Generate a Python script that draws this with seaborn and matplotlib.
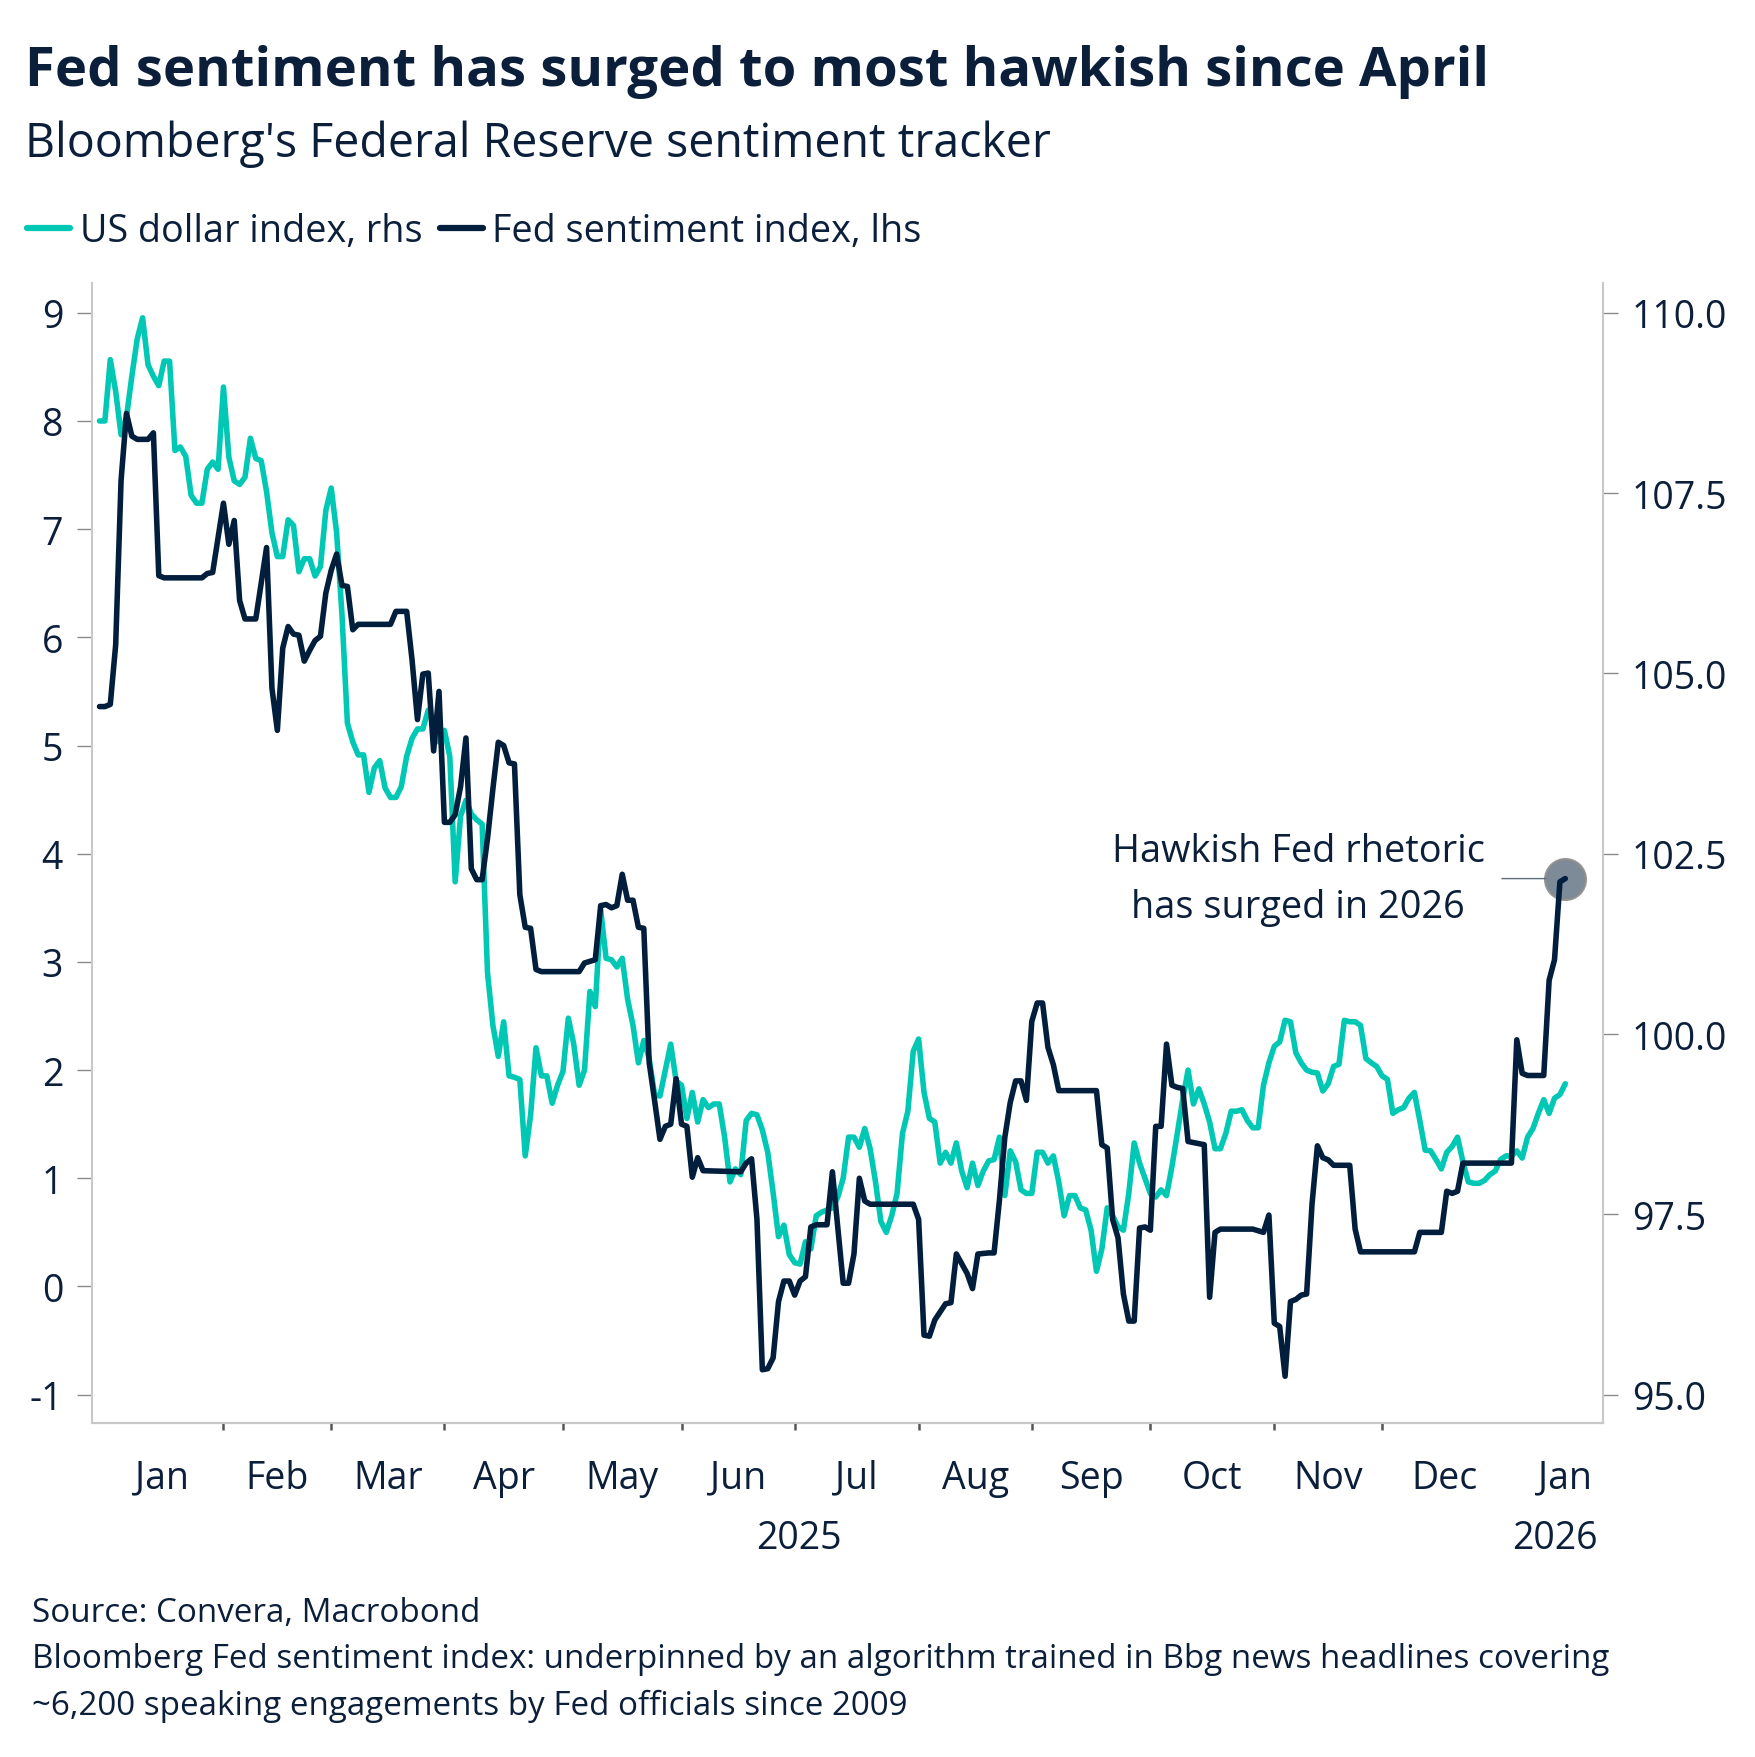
import numpy as np
import pandas as pd
import matplotlib.pyplot as plt
from matplotlib.lines import Line2D
import seaborn as sns

NAVY = "#011f3d"
TEAL = "#00c8b4"
INK = "#0b1f3b"
SPINE = "#c8c8c8"

# x = trading day counted from 2025-01-01 (weekdays only)
fed_day = [0, 1, 2, 3, 4, 5, 6, 7, 9, 10, 11, 12, 19, 20, 21, 23, 24, 25, 26, 27,
           29, 31, 32, 33, 34, 35, 36, 37, 38, 39, 40, 41, 42, 43, 44, 45, 46, 47, 48, 54,
           55, 57, 58, 59, 60, 61, 62, 63, 64, 65, 66, 67, 68, 69, 70, 71, 72, 73, 74, 75,
           76, 77, 78, 79, 80, 81, 82, 89, 90, 92, 93, 94, 95, 96, 97, 98, 99, 100, 101, 102,
           103, 104, 105, 106, 107, 108, 109, 110, 111, 112, 119, 120, 121, 122, 123, 124, 125, 126, 127, 128,
           129, 130, 131, 132, 133, 135, 136, 137, 138, 139, 140, 141, 142, 143, 151, 152, 153, 154, 155, 157,
           158, 159, 161, 162, 163, 165, 166, 167, 168, 169, 170, 171, 172, 173, 174, 175, 176, 177, 178, 185,
           186, 187, 188, 189, 190, 191, 192, 193, 194, 195, 196, 197, 198, 199, 200, 201, 202, 203, 205, 206,
           207, 208, 214, 216, 217, 218, 219, 220, 221, 222, 223, 224, 225, 226, 227, 228, 229, 232, 233, 234,
           244, 245, 249, 250, 251, 252, 253, 262, 263, 264, 265, 268, 269, 270, 271, 272]
fed_val = [5.36, 5.36, 5.38, 5.93, 7.45, 8.07, 7.86, 7.83, 7.83, 7.89, 6.57, 6.55, 6.55, 6.59, 6.60, 7.24, 6.86, 7.08, 6.34, 6.17,
           6.17, 6.83, 5.53, 5.14, 5.90, 6.10, 6.03, 6.02, 5.78, 5.88, 5.97, 6.01, 6.41, 6.62, 6.77, 6.48, 6.47, 6.07, 6.12, 6.12,
           6.24, 6.24, 5.79, 5.24, 5.66, 5.67, 4.95, 5.50, 4.29, 4.29, 4.36, 4.62, 5.07, 3.86, 3.76, 3.76, 4.14, 4.60, 5.03, 5.00,
           4.84, 4.83, 3.62, 3.32, 3.31, 2.93, 2.91, 2.91, 2.99, 3.02, 3.52, 3.53, 3.50, 3.52, 3.81, 3.57, 3.57, 3.32, 3.31, 2.07,
           1.72, 1.36, 1.48, 1.50, 1.92, 1.50, 1.48, 1.01, 1.19, 1.07, 1.06, 1.14, 1.18, 0.62, -0.77, -0.76, -0.66, -0.14, 0.05, 0.05,
           -0.08, 0.05, 0.09, 0.55, 0.57, 0.57, 1.06, 0.55, 0.03, 0.03, 0.30, 1.00, 0.79, 0.76, 0.76, 0.62, -0.45, -0.46, -0.31, -0.16,
           -0.15, 0.30, 0.12, -0.02, 0.30, 0.31, 0.31, 0.80, 1.38, 1.70, 1.90, 1.90, 1.72, 2.45, 2.62, 2.62, 2.21, 2.05, 1.81, 1.81,
           1.31, 1.28, 0.62, 0.45, -0.07, -0.32, -0.32, 0.54, 0.55, 0.52, 1.48, 1.48, 2.24, 1.86, 1.84, 1.83, 1.34, 1.33, 1.31, -0.10,
           0.50, 0.53, 0.53, 0.50, 0.66, -0.34, -0.37, -0.83, -0.14, -0.12, -0.08, -0.07, 0.76, 1.30, 1.19, 1.17, 1.12, 1.12, 0.53, 0.32,
           0.32, 0.50, 0.50, 0.88, 0.86, 0.88, 1.14, 1.14, 2.28, 1.97, 1.95, 1.95, 2.83, 3.02, 3.74, 3.77]

# one reading per trading day from 2025-01-01
usd_val = [108.50, 108.50, 109.35, 108.91, 108.31, 108.55, 109.12, 109.64, 109.93, 109.28,
           109.12, 108.99, 109.33, 109.33, 108.09, 108.14, 108.01, 107.47, 107.36, 107.36,
           107.83, 107.93, 107.83, 108.97, 108.00, 107.67, 107.62, 107.72, 108.26, 107.98,
           107.95, 107.52, 106.95, 106.62, 106.62, 107.13, 107.05, 106.41, 106.59, 106.59,
           106.35, 106.48, 107.26, 107.57, 106.95, 105.81, 104.31, 104.05, 103.87, 103.87,
           103.35, 103.69, 103.79, 103.41, 103.28, 103.28, 103.43, 103.85, 104.10, 104.23,
           104.23, 104.49, 104.31, 104.05, 104.21, 103.85, 102.11, 103.02, 103.24, 103.05,
           102.97, 102.91, 100.85, 100.12, 99.69, 100.17, 99.42, 99.40, 99.37, 98.31,
           98.88, 99.81, 99.42, 99.42, 99.04, 99.29, 99.48, 100.22, 99.86, 99.29,
           99.50, 100.59, 100.38, 101.72, 101.05, 101.03, 100.93, 101.05, 100.48, 100.12,
           99.60, 99.91, 99.66, 99.16, 99.14, 99.50, 99.86, 99.35, 99.29, 98.83,
           99.19, 98.78, 99.09, 98.98, 99.03, 99.03, 98.57, 97.95, 98.13, 98.05,
           98.80, 98.90, 98.88, 98.67, 98.36, 97.80, 97.19, 97.35, 96.94, 96.83,
           96.81, 97.12, 97.02, 97.48, 97.53, 97.56, 97.59, 97.74, 98.00, 98.57,
           98.57, 98.43, 98.69, 98.41, 97.95, 97.40, 97.25, 97.48, 97.79, 98.62,
           98.93, 99.76, 99.93, 99.19, 98.83, 98.78, 98.21, 98.36, 98.21, 98.49,
           98.10, 97.87, 98.21, 97.90, 98.10, 98.24, 98.26, 98.57, 97.76, 98.38,
           98.23, 97.84, 97.79, 97.79, 98.36, 98.36, 98.21, 98.31, 97.95, 97.48,
           97.76, 97.76, 97.59, 97.56, 97.28, 96.71, 97.02, 97.59, 97.48, 97.33,
           97.28, 97.79, 98.49, 98.21, 98.00, 97.79, 97.74, 97.84, 97.76, 98.16,
           98.62, 99.09, 99.50, 99.03, 99.24, 99.03, 98.78, 98.41, 98.41, 98.62,
           98.93, 98.93, 98.95, 98.80, 98.70, 98.70, 99.29, 99.60, 99.83, 99.89,
           100.19, 100.17, 99.74, 99.60, 99.50, 99.47, 99.46, 99.21, 99.31, 99.55,
           99.58, 100.19, 100.17, 100.17, 100.12, 99.66, 99.60, 99.55, 99.42, 99.37,
           98.90, 98.95, 98.98, 99.11, 99.19, 98.80, 98.39, 98.38, 98.26, 98.13,
           98.36, 98.44, 98.57, 98.23, 97.95, 97.93, 97.93, 97.97, 98.05, 98.10,
           98.26, 98.31, 98.31, 98.38, 98.28, 98.57, 98.69, 98.90, 99.09, 98.90,
           99.11, 99.16, 99.31]

month_labels = ["Jan", "Feb", "Mar", "Apr", "May", "Jun", "Jul", "Aug", "Sep", "Oct", "Nov", "Dec", "Jan"]
year_labels = ["2025", "2026"]
left_ticks = [-1, 0, 1, 2, 3, 4, 5, 6, 7, 8, 9]
right_ticks = [95.0, 97.5, 100.0, 102.5, 105.0, 107.5, 110.0]

start = np.datetime64("2025-01-01")
fed = pd.DataFrame({"day": fed_day, "value": fed_val})
usd = pd.DataFrame({"day": np.arange(len(usd_val)), "value": usd_val})

# month boundaries on the trading-day axis
month_starts = pd.date_range("2025-01-01", "2026-02-01", freq="MS").values.astype("datetime64[D]")
month_pos = np.busday_count(start, month_starts)
month_mid = (month_pos[:-1] + month_pos[1:]) / 2

sns.set_theme(style="white")
plt.rcParams["font.family"] = ["Open Sans", "DejaVu Sans"]
plt.rcParams["axes.unicode_minus"] = False

fig = plt.figure(figsize=(17.55, 17.58), dpi=100)
ax = fig.add_axes([0.0524, 0.190, 0.861, 0.6485])
ax2 = ax.twinx()

LW = 4.0
sns.lineplot(data=usd, x="day", y="value", ax=ax2, color=TEAL, lw=LW)
sns.lineplot(data=fed, x="day", y="value", ax=ax, color=NAVY, lw=LW, zorder=3)

# fed line drawn above the dollar line
ax.set_zorder(ax2.get_zorder() + 1)
ax.patch.set_visible(False)

xmin, xmax = -1.4, 279
ax.set_xlim(xmin, xmax)
ax.set_ylim(-1.262, 9.276)
ax2.set_ylim(95 + (-1.262 + 1) * 1.5, 95 + (9.276 + 1) * 1.5)

ax.set_yticks(left_ticks)
ax.set_yticklabels([str(t) for t in left_ticks])
ax2.set_yticks(right_ticks)
ax2.set_yticklabels([f"{t:.1f}" for t in right_ticks])
for a in (ax, ax2):
    a.set_xlabel("")
    a.set_ylabel("")
    a.spines["top"].set_visible(False)
    for s in ("left", "right", "bottom"):
        a.spines[s].set_color(SPINE)
        a.spines[s].set_linewidth(1.5)
ax.spines["right"].set_visible(False)
ax2.spines["left"].set_visible(False)

ax.tick_params(axis="y", left=True, length=10.8, width=1.0, color="#8a8a8a", pad=10,
               labelsize=27, labelcolor=INK)
ax2.tick_params(axis="y", right=True, length=10.8, width=1.0, color="#8a8a8a", pad=10,
                labelsize=27, labelcolor=INK)

# year boundaries get long ticks, other months short ones
year_pos = [p for p, d in zip(month_pos, month_starts) if str(d).endswith("-01-01")]
other_pos = [p for p, d in zip(month_pos, month_starts) if not str(d).endswith("-01-01") and p < xmax]
ax.set_xticks(year_pos)
ax.set_xticks(other_pos, minor=True)
ax.set_xticklabels([])
ax.tick_params(axis="x", which="major", bottom=True, length=11.5, width=1.8, color="#555555")
ax.tick_params(axis="x", which="minor", bottom=True, length=5, width=1.8, color="#555555")
ax2.set_xticks([])

trans = ax.get_xaxis_transform()
for pos, lab in zip(month_mid, month_labels):
    ax.text(pos, -0.0567, lab, transform=trans, ha="center", va="baseline", fontsize=27, color=INK)
ax.text((xmin + year_pos[1]) / 2, -0.1095, year_labels[0], transform=trans, ha="center",
        va="baseline", fontsize=27, color=INK)
ax.text((year_pos[1] + xmax) / 2, -0.1095, year_labels[1], transform=trans, ha="center",
        va="baseline", fontsize=27, color=INK)

# annotation on the latest reading
ax.plot(fed_day[-1], fed_val[-1], marker="o", ms=29, mfc="#6f7d8c", mec="#8c8c8c", mew=2,
        alpha=0.9, zorder=2)
ax.annotate("Hawkish Fed rhetoric\nhas surged in 2026", xy=(fed_day[-1], fed_val[-1]),
            xytext=(-58, 0), textcoords="offset points", ha="right", va="center",
            multialignment="center", fontsize=27.3, color=INK, linespacing=1.62,
            arrowprops=dict(arrowstyle="-", color="#5d6d7e", lw=1, shrinkA=10, shrinkB=14,
                            relpos=(1, 0.5)))

# titles, legend and notes
fig.text(0.01425, 0.9511, "Fed sentiment has surged to most hawkish since April", fontsize=39.2,
         fontweight="bold", color=INK, va="baseline")
fig.text(0.01425, 0.9107, "Bloomberg's Federal Reserve sentiment tracker", fontsize=33.5,
         color=INK, va="baseline")

handles = [Line2D([], [], color=TEAL, lw=4.5), Line2D([], [], color=NAVY, lw=4.5)]
fig.legend(handles, ["US dollar index, rhs", "Fed sentiment index, lhs"], loc="center left",
           bbox_to_anchor=(0.0154, 0.8678), ncol=2, frameon=False, borderpad=0, borderaxespad=0,
           handlelength=1.15, handletextpad=0.25, columnspacing=0.45, fontsize=27.2, labelcolor=INK)

notes = ["Source: Convera, Macrobond",
         "Bloomberg Fed sentiment index: underpinned by an algorithm trained in Bbg news headlines covering",
         "~6,200 speaking engagements by Fed officials since 2009"]
for y, line in zip([0.0775, 0.0512, 0.0245], notes):
    fig.text(0.0182, y, line, fontsize=23.9, color=INK, va="baseline")

fig.savefig("out.png", dpi=100)
